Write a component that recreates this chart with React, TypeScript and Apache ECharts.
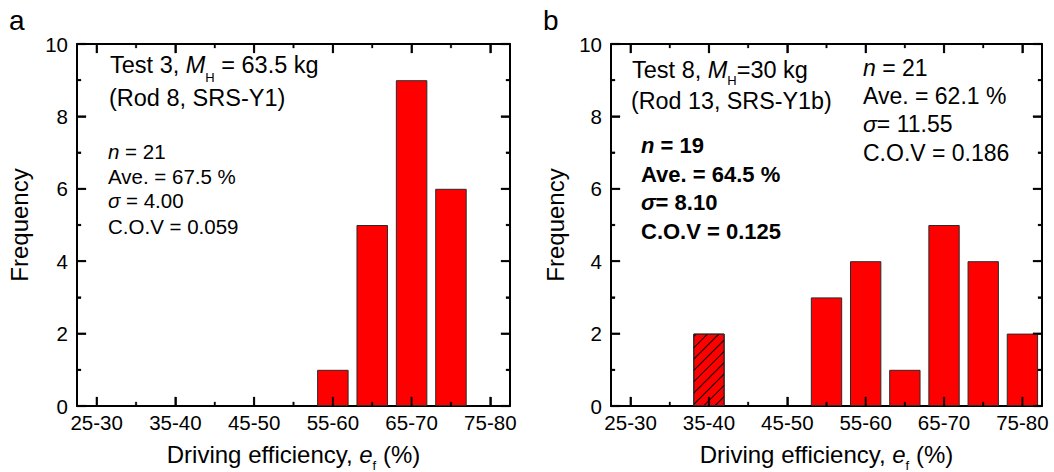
import React, { useEffect, useRef } from 'react';
import * as echarts from 'echarts';

// ---------------- data ----------------
const categories = ['25-30', '30-35', '35-40', '40-45', '45-50', '50-55', '55-60', '60-65', '65-70', '70-75', '75-80'];
const freqA = [0, 0, 0, 0, 0, 0, 1, 5, 9, 6, 0];
const freqB = [0, 0, 0, 0, 0, 3, 4, 1, 5, 4, 2];
const freqBExcluded = [0, 0, 2, 0, 0, 0, 0, 0, 0, 0, 0];
const yMin = 0;
const yMax = 10;
const yStep = 2;
const yMinorStep = 1;

const panelLabels = ['a', 'b'];
const headerA = ['{r|Test 3, }{i|M}{s|H}{r| = 63.5 kg}', '{r|(Rod 8, SRS-Y1)}'];
const statsA = ['{i|n}{r| = 21}', '{r|Ave. = 67.5 %}', '{i|σ}{r| = 4.00}', '{r|C.O.V = 0.059}'];
const headerB = ['{r|Test 8, }{i|M}{s|H}{r|=30 kg}', '{r|(Rod 13, SRS-Y1b)}'];
const statsBAll = ['{i|n}{r| = 21}', '{r|Ave. = 62.1 %}', '{i|σ}{r|= 11.55}', '{r|C.O.V = 0.186}'];
const statsBSel = ['{i|n}{r| = 19}', '{r|Ave. = 64.5 %}', '{i|σ}{r|= 8.10}', '{r|C.O.V = 0.125}'];
const xName = '{r|Driving efficiency, }{i|e}{s|f}{r| (%)}';
const yName = 'Frequency';

const FONT = "'Liberation Sans', Arial, sans-serif";

const grids = [
  { left: 77, top: 44, width: 433, height: 362 },
  { left: 611, top: 44, width: 431, height: 362 },
];

function richFor(size: number, weight: string = 'normal', subPad: number = 22) {
  return {
    r: { fontSize: size, fontFamily: FONT, fontWeight: weight, fill: '#000', lineHeight: size },
    i: { fontSize: size, fontFamily: FONT, fontWeight: weight, fontStyle: 'italic', fill: '#000', lineHeight: size },
    s: { fontSize: 13, fontFamily: FONT, fontWeight: 'normal', fill: '#000', lineHeight: 1, padding: [subPad, 0, 0, 0] },
  };
}

function txt(x: number, y: number, text: string, size: number, weight: string = 'normal', subPad: number = 22) {
  return {
    type: 'text',
    x,
    y,
    z: 100,
    silent: true,
    style: {
      text,
      fontSize: size,
      fontFamily: FONT,
      fontWeight: weight,
      fill: '#000',
      align: 'left',
      verticalAlign: 'middle',
      rich: richFor(size, weight, subPad),
    },
  };
}

const lineS = () => ({ color: '#000', width: 2 });
const tickS = () => ({ color: '#000', width: 1.5 });

function xAxesFor(g: number, nameGap: number) {
  const base = { type: 'category', data: categories, gridIndex: g, boundaryGap: true };
  return [
    {
      ...base,
      position: 'bottom',
      axisLine: { show: true, onZero: false, lineStyle: lineS() },
      axisTick: { show: true, inside: true, length: 9, interval: 1, alignWithLabel: true, lineStyle: tickS() },
      axisLabel: { show: true, interval: 1, margin: 6, fontSize: 20.5, color: '#000', fontFamily: FONT },
      splitLine: { show: false },
      name: xName,
      nameLocation: 'middle',
      nameGap,
      nameTextStyle: {
        fontSize: 24,
        fontFamily: FONT,
        color: '#000',
        lineHeight: 24,
        rich: {
          r: { fontSize: 24, fontFamily: FONT, color: '#000', lineHeight: 24 },
          i: { fontSize: 24, fontFamily: FONT, color: '#000', fontStyle: 'italic', lineHeight: 24 },
          s: { fontSize: 13, fontFamily: FONT, color: '#000', lineHeight: 1, padding: [21, 0, 0, 0] },
        },
      },
    },
    {
      ...base,
      position: 'top',
      axisLine: { show: true, onZero: false, lineStyle: lineS() },
      axisTick: { show: true, inside: true, length: 9, interval: 1, alignWithLabel: true, lineStyle: tickS() },
      axisLabel: { show: false, interval: 1 },
      splitLine: { show: false },
    },
  ];
}

function yAxesFor(g: number, nameGap: number) {
  const base = () => ({
    type: 'value',
    gridIndex: g,
    min: yMin,
    max: yMax,
    interval: yStep,
    splitLine: { show: false },
    axisLine: { show: true, onZero: false, lineStyle: lineS() },
    axisTick: { show: true, inside: true, length: 9, lineStyle: tickS() },
    minorTick: { show: true, splitNumber: yStep / yMinorStep, length: 4, lineStyle: tickS() },
  });
  return [
    {
      ...base(),
      position: 'left',
      axisLabel: { show: true, margin: 9, fontSize: 20.5, color: '#000', fontFamily: FONT },
      name: yName,
      nameLocation: 'middle',
      nameRotate: 90,
      nameGap,
      nameTextStyle: { fontSize: 24, fontFamily: FONT, color: '#000', lineHeight: 24 },
    },
    {
      ...base(),
      position: 'right',
      axisLabel: { show: false },
    },
  ];
}

const barStyle = () => ({ color: '#ff0000', borderColor: '#2a2a2a', borderWidth: 1 });
const toBar = (arr: number[]) => arr.map((v) => (v ? v : null));

// category-band and value scale of each grid (same mapping the axes use)
function catX(gi: number, i: number) {
  const g = grids[gi];
  return g.left + ((i + 0.5) * g.width) / categories.length;
}
function valY(gi: number, v: number) {
  const g = grids[gi];
  return g.top + g.height * (1 - (v - yMin) / (yMax - yMin));
}

function buildTicks(toPx: (gi: number, i: number) => number, toPy: (gi: number, v: number) => number) {
  const ticks: any[] = [];
  const tw = 1.6;
  grids.forEach((g, gi) => {
    const bottom = g.top + g.height;
    const right = g.left + g.width;
    categories.forEach((_, i) => {
      const px = toPx(gi, i);
      const len = i % 2 === 0 ? 9 : 4;
      ticks.push({ type: 'rect', id: `tx${gi}b${i}`, z: 60, silent: true, shape: { x: px - tw / 2, y: bottom - len, width: tw, height: len }, style: { fill: '#000', stroke: '#000', lineWidth: 0.3 } });
      ticks.push({ type: 'rect', id: `tx${gi}t${i}`, z: 60, silent: true, shape: { x: px - tw / 2, y: g.top, width: tw, height: len }, style: { fill: '#000', stroke: '#000', lineWidth: 0.3 } });
    });
    for (let v = yMin; v <= yMax; v += yMinorStep) {
      const py = toPy(gi, v);
      const len = v % yStep === 0 ? 9 : 4;
      ticks.push({ type: 'rect', id: `ty${gi}l${v}`, z: 60, silent: true, shape: { x: g.left, y: py - tw / 2, width: len, height: tw }, style: { fill: '#000', stroke: '#000', lineWidth: 0.3 } });
      ticks.push({ type: 'rect', id: `ty${gi}r${v}`, z: 60, silent: true, shape: { x: right - len, y: py - tw / 2, width: len, height: tw }, style: { fill: '#000', stroke: '#000', lineWidth: 0.3 } });
    }
  });
  return ticks;
}

export default function App() {
  const ref = useRef<HTMLDivElement>(null);

  useEffect(() => {
    if (!ref.current) return;
    const chart = echarts.init(ref.current, null, { renderer: 'svg' });

    const graphic: any[] = [];
    graphic.push({
      type: 'text', x: 9, y: 20, z: 100,
      style: { text: panelLabels[0], fontSize: 28, fontFamily: FONT, fill: '#000', align: 'left', verticalAlign: 'middle' },
    });
    graphic.push({
      type: 'text', x: 543, y: 20, z: 100,
      style: { text: panelLabels[1], fontSize: 28, fontFamily: FONT, fill: '#000', align: 'left', verticalAlign: 'middle' },
    });
    // panel a annotations
    graphic.push(txt(110, 65, headerA[0], 23.5, 'normal', 24));
    graphic.push(txt(109, 98, headerA[1], 23.5));
    const aY = [151, 176, 200.5, 226];
    statsA.forEach((s, k) => graphic.push(txt(108, aY[k], s, 20.5)));
    // panel b annotations
    graphic.push(txt(632, 70, headerB[0], 23.5, 'normal', 21));
    graphic.push(txt(631, 100.5, headerB[1], 23.3));
    const bY = [68, 96, 124, 152.5];
    statsBAll.forEach((s, k) => graphic.push(txt(863, bY[k], s, 23)));
    const cY = [145, 174, 202.5, 231];
    statsBSel.forEach((s, k) => graphic.push(txt(641, cY[k], s, 22, 'bold')));

    const ticks = buildTicks(catX, valY);

    const option: any = {
      animation: false,
      grid: grids.map((g) => ({ ...g, outerBoundsMode: 'none', containLabel: false })),
      xAxis: [...xAxesFor(0, 36), ...xAxesFor(1, 36)],
      yAxis: [...yAxesFor(0, 46), ...yAxesFor(1, 44)],
      series: [
        {
          type: 'bar',
          xAxisIndex: 0,
          yAxisIndex: 0,
          data: toBar(freqA),
          barWidth: '80%',
          itemStyle: barStyle(),
        },
        {
          type: 'bar',
          xAxisIndex: 2,
          yAxisIndex: 2,
          data: toBar(freqB),
          barWidth: '80%',
          barGap: '-100%',
          itemStyle: barStyle(),
        },
        {
          type: 'bar',
          xAxisIndex: 2,
          yAxisIndex: 2,
          data: toBar(freqBExcluded),
          barWidth: '80%',
          barGap: '-100%',
          itemStyle: {
            ...barStyle(),
            decal: {
              symbol: 'rect',
              symbolSize: 1,
              color: '#000',
              dashArrayX: [1, 0],
              dashArrayY: [1, 7],
              rotation: -Math.PI / 4,
            },
          },
        },
      ],
      graphic: [...graphic, ...ticks],
    };
    chart.setOption(option);

    // refine tick positions through the chart's own axis scales
    try {
      const libPx = (gi: number, i: number) => {
        const p: any = chart.convertToPixel({ xAxisIndex: gi * 2, yAxisIndex: gi * 2 } as any, [i, yMin]);
        return p && isFinite(p[0]) ? p[0] : catX(gi, i);
      };
      const libPy = (gi: number, v: number) => {
        const p: any = chart.convertToPixel({ xAxisIndex: gi * 2, yAxisIndex: gi * 2 } as any, [0, v]);
        return p && isFinite(p[1]) ? p[1] : valY(gi, v);
      };
      let differs = false;
      grids.forEach((_, gi) => {
        categories.forEach((__, i) => {
          if (Math.abs(libPx(gi, i) - catX(gi, i)) > 0.5) differs = true;
        });
        for (let v = yMin; v <= yMax; v += yMinorStep) {
          if (Math.abs(libPy(gi, v) - valY(gi, v)) > 0.5) differs = true;
        }
      });
      if (differs) {
        chart.setOption({ graphic: [...graphic, ...buildTicks(libPx, libPy)] });
      }
    } catch (e) {
      // keep the first placement
    }

    return () => chart.dispose();
  }, []);

  return (
    <div
      ref={ref}
      style={{ position: 'fixed', left: 0, top: 0, width: 1054, height: 472, background: '#fff' }}
    />
  );
}
